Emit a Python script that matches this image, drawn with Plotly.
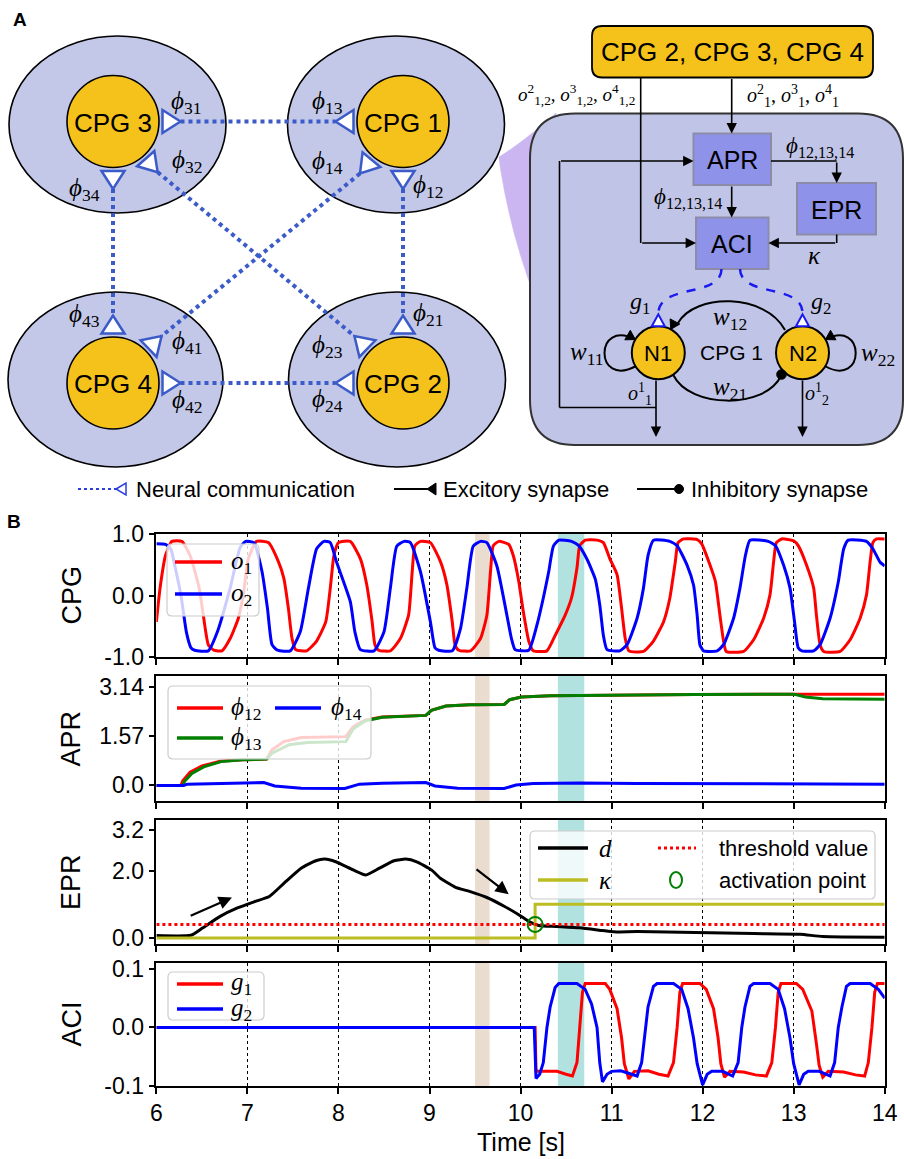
import math
import plotly.graph_objects as go

W, H = 904, 1159

# ---------------- DATA ----------------
# Panel B / CPG outputs
O1_T = [6.00, 6.04, 6.10, 6.17, 6.28, 6.37, 6.47, 6.52, 6.57, 6.63, 6.72,
        6.81, 6.90, 6.96, 7.01, 7.10, 7.23,
        7.34, 7.40, 7.45, 7.49, 7.53, 7.65,
        7.76, 7.86, 7.91, 7.95, 8.00, 8.13,
        8.24, 8.31, 8.37, 8.40, 8.44, 8.57,
        8.68, 8.77, 8.81, 8.84, 8.90, 9.01,
        9.12, 9.19, 9.25, 9.28, 9.32, 9.45,
        9.56, 9.63, 9.67, 9.70, 9.76, 9.87,
        9.92, 9.98, 10.03, 10.09, 10.14, 10.29,
        10.38, 10.49, 10.56, 10.62, 10.65, 10.71, 10.84, 10.91,
        10.98, 11.06, 11.11, 11.15, 11.19, 11.35,
        11.46, 11.57, 11.64, 11.70, 11.73, 11.79, 11.94, 11.99,
        12.08, 12.14, 12.19, 12.23, 12.26, 12.45,
        12.56, 12.67, 12.74, 12.78, 12.81, 12.87, 13.00, 13.05,
        13.14, 13.22, 13.25, 13.29, 13.33, 13.51,
        13.62, 13.73, 13.80, 13.84, 13.87, 13.91, 14.00]
O1 = [-0.43, 0.12, 0.65, 0.88, 0.88, 0.65, 0.12, -0.37, -0.80, -0.89, -0.90,
      -0.70, -0.37, 0.07, 0.60, 0.88, 0.86,
      0.55, 0.28, -0.21, -0.70, -0.88, -0.90,
      -0.74, -0.43, 0.12, 0.65, 0.86, 0.88,
      0.60, 0.18, -0.43, -0.80, -0.89, -0.90,
      -0.70, -0.32, 0.39, 0.81, 0.88, 0.86,
      0.55, 0.18, -0.43, -0.80, -0.89, -0.90,
      -0.70, -0.32, 0.39, 0.81, 0.88, 0.83,
      0.65, 0.23, -0.26, -0.74, -0.90, -0.90,
      -0.65, -0.32, -0.04, 0.45, 0.81, 0.90, 0.90, 0.86,
      0.60, 0.34, -0.21, -0.70, -0.90, -0.91,
      -0.74, -0.43, -0.04, 0.55, 0.86, 0.92, 0.91, 0.84,
      0.50, 0.23, -0.32, -0.74, -0.91, -0.91,
      -0.72, -0.37, 0.01, 0.55, 0.86, 0.92, 0.89, 0.81,
      0.50, 0.12, -0.32, -0.80, -0.91, -0.91,
      -0.72, -0.37, 0.01, 0.55, 0.86, 0.92, 0.92]

O2_T = [6.00, 6.10, 6.16, 6.20, 6.27, 6.33, 6.38, 6.42, 6.57,
        6.67, 6.81, 6.92, 6.98, 7.07,
        7.16, 7.22, 7.27, 7.33, 7.47,
        7.58, 7.67, 7.76, 7.84, 7.91,
        7.98, 8.13, 8.18, 8.24, 8.39,
        8.50, 8.57, 8.64, 8.72, 8.79,
        8.90, 9.01, 9.06, 9.10, 9.25,
        9.34, 9.41, 9.48, 9.56, 9.63,
        9.74, 9.85, 9.90, 9.94, 10.09,
        10.18, 10.25, 10.31, 10.36, 10.42, 10.56, 10.64,
        10.73, 10.82, 10.87, 10.91, 10.95, 11.09,
        11.17, 11.28, 11.35, 11.40, 11.46, 11.64, 11.72,
        11.83, 11.90, 11.94, 11.97, 12.01, 12.16,
        12.23, 12.34, 12.41, 12.47, 12.52, 12.72, 12.80,
        12.89, 12.96, 13.01, 13.05, 13.09, 13.22,
        13.29, 13.40, 13.49, 13.55, 13.60, 13.80, 13.87, 13.95, 14.00]
O2 = [0.84, 0.83, 0.75, 0.50, 0.00, -0.60, -0.85, -0.89, -0.90,
      -0.59, 0.12, 0.78, 0.88, 0.86,
      0.39, -0.21, -0.80, -0.89, -0.90,
      -0.59, 0.12, 0.76, 0.88, 0.86,
      0.54, -0.10, -0.59, -0.88, -0.90,
      -0.59, 0.12, 0.80, 0.88, 0.86,
      0.39, -0.43, -0.85, -0.89, -0.90,
      -0.54, 0.12, 0.80, 0.88, 0.86,
      0.48, -0.32, -0.70, -0.88, -0.89,
      -0.48, -0.04, 0.39, 0.80, 0.90, 0.88, 0.81,
      0.59, 0.27, -0.15, -0.65, -0.88, -0.90,
      -0.80, -0.37, 0.12, 0.65, 0.90, 0.88, 0.81,
      0.49, 0.17, -0.32, -0.80, -0.90, -0.90,
      -0.80, -0.37, 0.12, 0.65, 0.90, 0.88, 0.81,
      0.49, 0.12, -0.43, -0.85, -0.90, -0.90,
      -0.80, -0.37, 0.22, 0.76, 0.90, 0.88, 0.76, 0.54, 0.48]

# Panel B / APR phase differences
PHI12_T = [6.0, 6.27, 6.29, 6.37, 6.50, 6.70, 6.95, 7.21, 7.27, 7.40, 7.59, 8.08,
           8.16, 8.29, 8.48, 8.96, 9.02, 9.18, 9.44, 9.82, 9.88, 10.01, 10.33,
           10.97, 11.92, 13.0, 14.0]
PHI12 = [0.0, 0.0, 0.15, 0.42, 0.62, 0.77, 0.82, 0.84, 1.14, 1.40, 1.53, 1.56,
         1.87, 2.09, 2.19, 2.24, 2.40, 2.54, 2.58, 2.59, 2.74, 2.83, 2.87,
         2.89, 2.91, 2.92, 2.92]
PHI13_T = [6.0, 6.29, 6.31, 6.39, 6.52, 6.71, 6.95, 7.21, 7.27, 7.46, 7.66, 8.08,
           8.16, 8.29, 8.48, 8.96, 9.02, 9.18, 9.44, 9.82, 9.88, 10.01, 10.33,
           10.97, 11.92, 13.0, 13.13, 13.32, 14.0]
PHI13 = [0.0, 0.0, 0.13, 0.38, 0.59, 0.76, 0.82, 0.84, 1.03, 1.30, 1.37, 1.40,
         1.80, 2.06, 2.18, 2.24, 2.40, 2.54, 2.58, 2.59, 2.74, 2.83, 2.87,
         2.89, 2.91, 2.92, 2.83, 2.77, 2.76]
PHI14_T = [6.0, 6.30, 6.34, 7.18, 7.30, 7.59, 8.07, 8.23, 8.48, 8.96, 9.06, 9.31,
           9.82, 9.95, 10.14, 10.65, 11.28, 14.0]
PHI14 = [0.0, 0.0, 0.04, 0.09, -0.02, -0.09, -0.10, 0.04, 0.07, 0.09, -0.02, -0.09,
         -0.10, 0.01, 0.06, 0.08, 0.06, 0.04]

# Panel B / EPR
D_T = [6.0, 6.38, 6.51, 6.70, 6.89, 7.08, 7.24, 7.40, 7.59, 7.75, 7.85, 7.97,
       8.16, 8.30, 8.45, 8.61, 8.74, 8.86, 9.02, 9.12, 9.28, 9.44, 9.63, 9.82,
       9.98, 10.11, 10.20, 10.39, 10.65, 10.90, 11.03, 11.28, 11.92, 12.56,
       13.07, 13.32, 14.0]
D = [0.07, 0.08, 0.30, 0.64, 0.89, 1.08, 1.23, 1.62, 2.07, 2.29, 2.34, 2.26,
     2.02, 1.87, 2.07, 2.29, 2.34, 2.26, 2.02, 1.77, 1.51, 1.38, 1.20, 0.94,
     0.69, 0.46, 0.37, 0.34, 0.30, 0.22, 0.18, 0.19, 0.16, 0.13,
     0.11, 0.04, 0.02]
KAPPA_T = [6.0, 10.16, 10.16, 14.0]
KAPPA = [0.0, 0.0, 1.0, 1.0]
THRESH_T = [6.0, 14.0]
THRESH = [0.40, 0.40]
ACT_T = [10.16]
ACT = [0.40]

# Panel B / ACI outputs
G1_T = [6.0, 10.16, 10.17, 10.40, 10.50, 10.57, 10.62, 10.65, 10.68, 10.71, 10.93,
        10.98, 11.06, 11.11, 11.14, 11.19, 11.25, 11.40, 11.52, 11.62, 11.68, 11.72,
        11.75, 11.78, 11.97, 12.04, 12.12, 12.17, 12.20, 12.24, 12.30, 12.45, 12.58,
        12.70, 12.76, 12.80, 12.83, 12.86, 13.03, 13.10, 13.20, 13.25, 13.28, 13.32,
        13.38, 13.55, 13.68, 13.78, 13.82, 13.86, 13.89, 13.92, 14.0]
G1 = [0.0, 0.0, -0.075, -0.075, -0.080, -0.083, -0.060, 0.0, 0.060, 0.075, 0.075,
      0.065, 0.032, -0.018, -0.062, -0.088, -0.075, -0.074, -0.080, -0.083, -0.060, 0.0,
      0.060, 0.075, 0.075, 0.065, 0.032, -0.018, -0.062, -0.085, -0.075, -0.076, -0.081,
      -0.083, -0.060, 0.0, 0.060, 0.075, 0.075, 0.065, 0.028, -0.028, -0.065, -0.085,
      -0.075, -0.076, -0.081, -0.083, -0.060, 0.0, 0.060, 0.075, 0.075]
G2_T = [6.0, 10.15, 10.17, 10.21, 10.25, 10.29, 10.325, 10.38, 10.42, 10.62, 10.71,
        10.78, 10.84, 10.87, 10.90, 10.95, 11.00, 11.10, 11.22, 11.28, 11.33, 11.37,
        11.40, 11.46, 11.50, 11.68, 11.77, 11.84, 11.90, 11.94, 12.00, 12.05, 12.10,
        12.22, 12.33, 12.39, 12.43, 12.465, 12.52, 12.56, 12.74, 12.83, 12.90, 12.96,
        13.00, 13.06, 13.11, 13.16, 13.28, 13.40, 13.45, 13.49, 13.53, 13.58, 13.62,
        13.84, 13.93, 14.0]
G2 = [0.0, 0.0, -0.087, -0.080, -0.060, 0.0, 0.035, 0.068, 0.075, 0.075, 0.065,
      0.040, 0.0, -0.060, -0.093, -0.080, -0.075, -0.074, -0.080, -0.083, -0.060, 0.0,
      0.035, 0.070, 0.075, 0.075, 0.065, 0.032, -0.018, -0.062, -0.098, -0.080, -0.075,
      -0.075, -0.083, -0.060, 0.0, 0.035, 0.070, 0.075, 0.075, 0.065, 0.032, -0.018,
      -0.062, -0.098, -0.080, -0.075, -0.075, -0.083, -0.060, 0.0, 0.035, 0.070, 0.075,
      0.075, 0.065, 0.050]

BANDS = [(9.50, 9.66, "#EADDD0"), (10.41, 10.70, "#B2E2E0")]
X_TICKS = [6, 7, 8, 9, 10, 11, 12, 13, 14]
PANEL_NAMES = ["CPG", "APR", "EPR", "ACI"]
Y_TICKVALS = [[-1.0, 0.0, 1.0], [0.0, 1.57, 3.14], [0.0, 2.0, 3.2], [-0.1, 0.0, 0.1]]
Y_TICKTEXT = [["-1.0", "0.0", "1.0"], ["0.0", "1.57", "3.14"], ["0.0", "2.0", "3.2"],
              ["-0.1", "0.0", "0.1"]]
Y_RANGES = [[-1.0, 1.0], [-0.5, 3.5], [-0.18, 3.5], [-0.1, 0.11]]

# ---------------- helpers ----------------
SANS = "Liberation Sans"
SERIF = "Liberation Serif"


def X(px):
    return px / W


def Y(py):
    return 1 - py / H


shapes = []
ann = []


def pth(cmds):
    out = []
    for c, pts in cmds:
        out.append(c + " " + " ".join(f"{X(x):.5f},{Y(y):.5f}" for x, y in pts))
    return " ".join(out)


def add_path(cmds, fill=None, lc="black", lw=1.5, dash=None):
    shapes.append(dict(type="path", xref="paper", yref="paper", path=pth(cmds),
                       fillcolor=fill if fill else "rgba(0,0,0,0)",
                       line=dict(color=lc, width=lw, dash=dash) if lw > 0 else dict(width=0),
                       layer="above"))


def add_poly(pts, fill=None, lc="black", lw=1.5):
    cmds = [("M", [pts[0]])] + [("L", [p]) for p in pts[1:]] + [("Z", [])]
    add_path(cmds, fill, lc, lw)


def add_line(x0, y0, x1, y1, lc="black", lw=1.6, dash=None):
    shapes.append(dict(type="line", xref="paper", yref="paper", x0=X(x0), y0=Y(y0),
                       x1=X(x1), y1=Y(y1), line=dict(color=lc, width=lw, dash=dash),
                       layer="above"))


def add_ellipse(cx, cy, rx, ry, fill, lc="black", lw=1.5):
    shapes.append(dict(type="circle", xref="paper", yref="paper", x0=X(cx - rx), x1=X(cx + rx),
                       y0=Y(cy + ry), y1=Y(cy - ry), fillcolor=fill,
                       line=dict(color=lc, width=lw) if lw > 0 else dict(width=0),
                       layer="above"))


def rrect_cmds(x0, y0, x1, y1, r):
    return [("M", [(x0 + r, y0)]), ("L", [(x1 - r, y0)]), ("Q", [(x1, y0), (x1, y0 + r)]),
            ("L", [(x1, y1 - r)]), ("Q", [(x1, y1), (x1 - r, y1)]), ("L", [(x0 + r, y1)]),
            ("Q", [(x0, y1), (x0, y1 - r)]), ("L", [(x0, y0 + r)]),
            ("Q", [(x0, y0), (x0 + r, y0)]), ("Z", [])]


def text(x, y, s, size=22, family=SANS, xanchor="center", yanchor="middle", color="black",
         angle=0):
    ann.append(dict(x=X(x), y=Y(y), xref="paper", yref="paper", text=s, showarrow=False,
                    xanchor=xanchor, yanchor=yanchor, textangle=angle,
                    font=dict(family=family, size=size, color=color)))


def arrow(x0, y0, x1, y1, lw=1.6):
    ann.append(dict(x=X(x1), y=Y(y1), xref="paper", yref="paper", ax=x0 - x1, ay=y0 - y1,
                    axref="pixel", ayref="pixel", showarrow=True, arrowhead=2,
                    arrowsize=1.3, arrowwidth=lw, arrowcolor="black", text="", standoff=0))


def phi(s):
    return f"<i>ϕ</i><sub>{s}</sub>"


def tri_toward(px_, py_, cx, cy, h, hw):
    dx, dy = cx - px_, cy - py_
    d = math.hypot(dx, dy)
    ux, uy = dx / d, dy / d
    bx, by = px_ - h * ux, py_ - h * uy
    nx, ny = -uy, ux
    return [(px_, py_), (bx + hw * nx, by + hw * ny), (bx - hw * nx, by - hw * ny)]


# ---------------- PANEL A (left network) ----------------
ELL_FILL = "#C3C8E8"
YEL = "#F5C21B"
NBLUE = "#3B5BC8"
CIRC_R = 46
CIRCLES = {"CPG 3": (113, 121.5), "CPG 1": (403, 121.5), "CPG 4": (113, 383),
           "CPG 2": (403, 383)}
ELLIPSES = [(117.5, 124.5, 108.5, 88.5), (396, 124.5, 108.5, 88.5),
            (115.5, 379.5, 107.5, 87.5), (397, 379.5, 108.5, 87.5)]
for cx, cy, rx, ry in ELLIPSES:
    add_ellipse(cx, cy, rx, ry, ELL_FILL, "black", 1.6)
for name, (cx, cy) in CIRCLES.items():
    add_ellipse(cx, cy, CIRC_R, CIRC_R, YEL, "black", 1.6)
    text(cx, cy + 1, name, size=26)

RECEPTORS = {
    "31": ("CPG 3", 0, (186, 102)), "32": ("CPG 3", 48.6, (187, 162)),
    "34": ("CPG 3", 90, (84, 189)),
    "13": ("CPG 1", 180, (327, 102)), "14": ("CPG 1", 129.6, (327, 163)),
    "12": ("CPG 1", 90, (428, 187)),
    "43": ("CPG 4", -90, (84, 316)), "41": ("CPG 4", -44, (187, 343)),
    "42": ("CPG 4", 0, (187, 401)),
    "21": ("CPG 2", -90, (428, 314)), "23": ("CPG 2", -136, (327, 346)),
    "24": ("CPG 2", 180, (327, 400)),
}
apex = {}
tris = {}
for k, (c, ang, lp) in RECEPTORS.items():
    cx, cy = CIRCLES[c]
    ux, uy = math.cos(math.radians(ang)), math.sin(math.radians(ang))
    nx, ny = -uy, ux
    bd, ad, hw = CIRC_R + 3.5, CIRC_R + 21.5, 11.5
    bx, by = cx + bd * ux, cy + bd * uy
    apex[k] = (cx + ad * ux, cy + ad * uy)
    tris[k] = [(bx + hw * nx, by + hw * ny), apex[k], (bx - hw * nx, by - hw * ny)]
for a, b in [("31", "13"), ("34", "43"), ("12", "21"), ("42", "24"), ("32", "23"),
             ("14", "41")]:
    add_line(apex[a][0], apex[a][1], apex[b][0], apex[b][1], NBLUE, 4, "dot")
for k, pts in tris.items():
    add_poly(pts, "white", NBLUE, 2.5)
for k, (c, ang, lp) in RECEPTORS.items():
    text(lp[0], lp[1], phi(k), size=25, family=SERIF)

# ---------------- PANEL A (right: CPG 1 internals) ----------------
PANEL_FILL = "#C0C5E7"
BOX_FILL = "#8E92E8"
add_path([("M", [(499, 157)]), ("Q", [(522, 143), (556, 113)]), ("L", [(556, 345)]),
          ("Q", [(515, 262), (500, 166)]), ("Z", [])], "#CBB6F2", "#CBB6F2", 0.5)
add_path(rrect_cmds(530, 113.5, 903, 445, 45), PANEL_FILL, "#333333", 2)
add_path(rrect_cmds(592, 26, 873, 77.5, 10), YEL, "black", 1.8)
text(732.5, 52, "CPG 2, CPG 3, CPG 4", size=26)
BOXES = {"APR": (693.5, 133.5, 771, 185), "EPR": (797, 183, 876, 234.5),
         "ACI": (696, 217.5, 768.5, 269)}
for name, (x0, y0, x1, y1) in BOXES.items():
    shapes.append(dict(type="rect", xref="paper", yref="paper", x0=X(x0), x1=X(x1),
                       y0=Y(y1), y1=Y(y0), fillcolor=BOX_FILL,
                       line=dict(color="#8C8CA8", width=2), layer="above"))
    text((x0 + x1) / 2, (y0 + y1) / 2 + 1, name, size=25)

arrow(731.7, 77.5, 731.7, 133.5)
add_line(640.7, 77.5, 640.7, 243)
arrow(640.7, 243, 696, 243)
arrow(731.7, 185, 731.7, 217.5)
add_line(771, 161, 836.7, 161)
arrow(836.7, 161, 836.7, 183)
add_line(836.7, 234.5, 836.7, 243)
arrow(836.7, 243, 768.5, 243)
add_line(656, 407.5, 559.5, 407.5)
add_line(559.5, 407.5, 559.5, 161)
arrow(559.5, 161, 693.5, 161)
arrow(656, 379, 656, 437)
arrow(802.5, 379, 802.5, 437)

text(637, 94, "<i>o</i><sup>2</sup><sub>1,2</sub>, <i>o</i><sup>3</sup><sub>1,2</sub>, "
              "<i>o</i><sup>4</sup><sub>1,2</sub>", size=19, family=SERIF, xanchor="right")
text(745, 96, "<i>o</i><sup>2</sup><sub>1</sub>, <i>o</i><sup>3</sup><sub>1</sub>, "
              "<i>o</i><sup>4</sup><sub>1</sub>", size=20, family=SERIF, xanchor="left")
text(820, 147, phi("12,13,14"), size=23, family=SERIF)
text(688, 198, phi("12,13,14"), size=23, family=SERIF)
text(814, 255, "<i>κ</i>", size=25, family=SERIF)

N1 = (658.3, 352.8)
N2 = (802.5, 352.8)
NR = 26.5
add_path([("M", [(636, 340)]), ("C", [(594, 317), (594, 389), (636, 366)])], None, "black", 2)
add_path([("M", [(824.8, 340)]), ("C", [(866, 317), (866, 389), (824.8, 366)])], None,
         "black", 2)
add_path([("M", [(678, 323)]), ("C", [(695, 293), (765, 293), (785, 330)])], None, "black", 2)
add_path([("M", [(673.3, 375)]), ("C", [(690, 409), (765, 409), (781, 376)])], None, "black", 2)
add_path([("M", [(721.5, 269)]), ("C", [(721, 298), (660, 283), (658.3, 313)])], None,
         "#1A1AF0", 2.5, "dash")
add_path([("M", [(740, 269)]), ("C", [(741, 298), (802, 283), (802.5, 313)])], None,
         "#1A1AF0", 2.5, "dash")
for c in (N1, N2):
    add_ellipse(c[0], c[1], NR, NR, YEL, "black", 2)
text(N1[0], N1[1] + 1, "N1", size=22)
text(N2[0], N2[1] + 1, "N2", size=22)
text(731, 352, "CPG 1", size=21)
for ang, c in [(-150, N1), (-62, N1), (-30, N2)]:
    px_ = c[0] + NR * math.cos(math.radians(ang))
    py_ = c[1] + NR * math.sin(math.radians(ang))
    add_poly(tri_toward(px_, py_, c[0], c[1], 9, 5.5), "black", "black", 1)
add_ellipse(781.5, 374.5, 4.8, 4.8, "black", "black", 1)
for c in (N1, N2):
    add_poly([(c[0] - 6.5, c[1] - NR), (c[0], c[1] - NR - 12), (c[0] + 6.5, c[1] - NR)],
             "white", "#1A1AF0", 2)
text(730, 318, "<i>w</i><sub>12</sub>", size=25, family=SERIF)
text(730, 388, "<i>w</i><sub>21</sub>", size=25, family=SERIF)
text(587, 353, "<i>w</i><sub>11</sub>", size=25, family=SERIF)
text(878, 354, "<i>w</i><sub>22</sub>", size=25, family=SERIF)
text(640, 303, "<i>g</i><sub>1</sub>", size=24, family=SERIF)
text(821, 303, "<i>g</i><sub>2</sub>", size=24, family=SERIF)
text(640, 394, "<i>o</i><sup>1</sup><sub>1</sub>", size=20, family=SERIF)
text(817, 394, "<i>o</i><sup>1</sup><sub>2</sub>", size=20, family=SERIF)

LY = 489
add_line(78, LY, 116, LY, "#2B3FE0", 2, "dot")
add_poly([(116, LY), (126, LY - 6), (126, LY + 6)], "white", "#2B3FE0", 1.5)
text(134, LY, "Neural communication", size=22, xanchor="left")
add_line(394, LY, 428, LY, "black", 2)
add_poly([(427, LY), (436, LY - 6), (436, LY + 6)], "black", "black", 1)
text(441, LY, "Excitory synapse", size=22, xanchor="left")
add_line(637, LY, 678, LY, "black", 2)
add_ellipse(679, LY, 4.5, 4.5, "black", "black", 1)
text(689, LY, "Inhibitory synapse", size=22, xanchor="left")

text(20, 20, "<b>A</b>", size=19)
text(14, 521, "<b>B</b>", size=19)

# ---------------- PANEL B (time series) ----------------
XL, XR = 156.4, 884.7
ROWS = [(534, 657), (676, 801), (820, 944), (963, 1086)]

fig = go.Figure()


def sc(k, xs, ys, color, width=3, shape="spline", dash=None, smoothing=0.5):
    ax = "" if k == 1 else str(k)
    line = dict(color=color, width=width, shape=shape, dash=dash)
    if shape == "spline":
        line["smoothing"] = smoothing
    fig.add_trace(go.Scatter(x=xs, y=ys, mode="lines", line=line, xaxis="x" + ax,
                             yaxis="y" + ax, hoverinfo="skip", showlegend=False))


sc(1, O1_T, O1, "#FF0000")
sc(1, O2_T, O2, "#0000FF")
sc(2, PHI12_T, PHI12, "#FF0000", shape="linear")
sc(2, PHI13_T, PHI13, "#008000", shape="linear")
sc(2, PHI14_T, PHI14, "#0000FF", shape="linear")
sc(3, D_T, D, "black")
sc(3, KAPPA_T, KAPPA, "#BCBD22", shape="linear")
sc(3, THRESH_T, THRESH, "#FF0000", shape="linear", dash="dot")
fig.add_trace(go.Scatter(x=ACT_T, y=ACT, mode="markers", xaxis="x3", yaxis="y3",
                         marker=dict(symbol="circle-open", size=15, color="#008000",
                                     line=dict(width=2, color="#008000")),
                         hoverinfo="skip", showlegend=False))
sc(4, G1_T, G1, "#FF0000", shape="linear")
sc(4, G2_T, G2, "#0000FF", shape="linear")

layout = {}
TICKFONT = dict(family=SANS, size=23, color="black")
for i, (top, bot) in enumerate(ROWS):
    k = i + 1
    sfx = "" if k == 1 else str(k)
    layout["xaxis" + sfx] = dict(
        domain=[XL / W, XR / W], anchor="y" + sfx, range=[6, 14], tickvals=X_TICKS,
        showticklabels=(k == 4), ticks="outside", ticklen=6, tickwidth=1.5,
        tickcolor="black", showline=True, mirror=True, linewidth=1.6, linecolor="black",
        showgrid=True, gridcolor="black", griddash="dot", gridwidth=1.1, zeroline=False,
        tickfont=TICKFONT, fixedrange=True, automargin=False)
    layout["yaxis" + sfx] = dict(
        domain=[1 - bot / H, 1 - top / H], anchor="x" + sfx, range=Y_RANGES[i],
        tickvals=Y_TICKVALS[i], ticktext=Y_TICKTEXT[i], ticks="outside", ticklen=6,
        tickwidth=1.5, tickcolor="black", showline=True, mirror=True, linewidth=1.6,
        linecolor="black", showgrid=False, zeroline=False, tickfont=TICKFONT,
        fixedrange=True, automargin=False)
    for (b0, b1, col) in BANDS:
        shapes.insert(0, dict(type="rect", xref="x" + sfx, yref="y" + sfx + " domain",
                              x0=b0, x1=b1, y0=0, y1=1, fillcolor=col, line=dict(width=0),
                              layer="below"))
    text(71, (top + bot) / 2, PANEL_NAMES[i], size=27, angle=-90)

text((XL + XR) / 2, 1142, "Time [s]", size=25)

for (t0, v0, t1, v1) in [(6.36, 0.64, 6.83, 1.20), (9.50, 2.07, 9.87, 1.30)]:
    ann.append(dict(x=t1, y=v1, xref="x3", yref="y3", ax=t0, ay=v0, axref="x3", ayref="y3",
                    showarrow=True, arrowhead=2, arrowsize=1.2, arrowwidth=2.2,
                    arrowcolor="black", text="", standoff=0))


def legend_box(x0, y0, x1, y1):
    add_path(rrect_cmds(x0, y0, x1, y1, 5), "rgba(255,255,255,0.8)", "#CCCCCC", 1.2)


legend_box(167, 544, 259, 616)
add_line(175, 562, 222, 562, "#FF0000", 3.5)
text(229, 562, "<i>o</i><sub>1</sub>", size=25, family=SERIF, xanchor="left")
add_line(175, 594, 222, 594, "#0000FF", 3.5)
text(229, 594, "<i>o</i><sub>2</sub>", size=25, family=SERIF, xanchor="left")

legend_box(168, 686, 371, 759)
add_line(177, 708, 223, 708, "#FF0000", 3.5)
text(229, 708, phi("12"), size=25, family=SERIF, xanchor="left")
add_line(275, 708, 321, 708, "#0000FF", 3.5)
text(329, 708, phi("14"), size=25, family=SERIF, xanchor="left")
add_line(177, 738, 223, 738, "#008000", 3.5)
text(229, 738, phi("13"), size=25, family=SERIF, xanchor="left")

legend_box(530, 831, 875, 899)
add_line(538, 848, 588, 848, "black", 3.5)
text(597, 848, "<i>d</i>", size=25, family=SERIF, xanchor="left")
add_line(658, 848, 696, 848, "#FF0000", 3, "dot")
text(717, 848, "threshold value", size=22, xanchor="left")
add_line(538, 880, 588, 880, "#BCBD22", 3.5)
text(597, 880, "<i>κ</i>", size=25, family=SERIF, xanchor="left")
add_ellipse(676, 880, 6, 8, "rgba(0,0,0,0)", "#008000", 2)
text(717, 880, "activation point", size=22, xanchor="left")

legend_box(168, 972, 264, 1020)
add_line(177, 984, 223, 984, "#FF0000", 3.5)
text(229, 984, "<i>g</i><sub>1</sub>", size=25, family=SERIF, xanchor="left")
add_line(177, 1009, 223, 1009, "#0000FF", 3.5)
text(229, 1009, "<i>g</i><sub>2</sub>", size=25, family=SERIF, xanchor="left")

fig.update_layout(template="none", width=W, height=H,
                  margin=dict(l=0, r=0, t=0, b=0, pad=0, autoexpand=False),
                  paper_bgcolor="white", plot_bgcolor="white", showlegend=False,
                  shapes=shapes, annotations=ann, **layout)
fig.write_html("out.html", config={"displayModeBar": False},
               post_script="document.documentElement.style.margin='0';"
                           "document.documentElement.style.overflow='hidden';"
                           "document.body.style.margin='0';"
                           "document.body.style.overflow='hidden';")
